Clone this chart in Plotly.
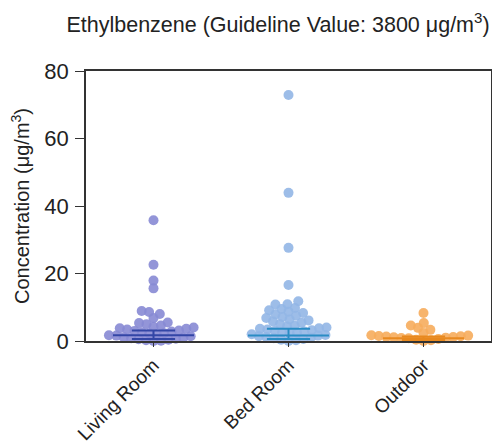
import numpy as np
import plotly.graph_objects as go

categories = ["Living Room", "Bed Room", "Outdoor"]
living_room = [35.8, 22.6, 17.9, 15.6, 8.9, 8.6, 8.0, 6.8, 5.5, 5.3, 5.0, 4.6,
               4.2, 4.0, 3.8, 3.6, 3.4, 3.1, 3.0, 2.8, 2.6, 2.3,
               2.2, 2.0, 1.7, 1.6, 1.4, 1.1, 1.0, 0.8, 0.7, 0.5,
               0.4, 0.2, 0.1, 0.0]
bed_room = [72.9, 43.9, 27.6, 16.6, 11.8, 10.9, 10.8, 9.8, 9.5, 9.1, 8.7, 8.3,
            7.9, 7.5, 7.1, 6.8, 6.4, 6.1, 5.8, 5.4, 5.0, 4.5, 4.3, 4.0, 3.8,
            3.6, 3.4, 3.2, 3.0, 2.8, 2.6, 2.4, 2.2, 2.0, 1.8, 1.6, 1.4, 1.2,
            1.0, 0.8, 0.6, 0.4, 0.2, 0.0]
outdoor = [8.3, 5.3, 4.6, 3.9, 3.3, 2.4, 1.7, 1.6, 1.5, 1.4, 1.3, 1.2, 1.1,
           1.0, 0.9, 0.8, 0.6, 0.4, 0.2, 0.0]
# median and interquartile range as drawn in the chart
medians = [1.7, 1.6, 0.8]
q1s = [0.6, 0.6, 0.3]
q3s = [3.1, 3.6, 1.3]

series = [living_room, bed_room, outdoor]
dot_colors = ["#8789d4", "#92b6e6", "#f6ac5c"]
bar_colors = ["#3346a6", "#2a8cc4", "#e8891f"]

W, H = 500, 445
M = dict(l=78, r=17, t=63, b=112)
YMAX = 80
px_x = (W - M["l"] - M["r"]) / 3.0
px_y = (H - M["t"] - M["b"]) / YMAX
D = 7.5  # collision distance in px


def beeswarm(vals):
    vals = np.asarray(vals, float)
    order = np.argsort(vals, kind="stable")
    placed = []
    offs = np.zeros(len(vals))
    for i in order:
        y = vals[i] * px_y
        cands = [0.0]
        for (px, py) in placed:
            dy = y - py
            if abs(dy) < D:
                dx = np.sqrt(D * D - dy * dy)
                cands += [px + dx, px - dx]
        cands.sort(key=abs)
        for c in cands:
            ok = all((c - px) ** 2 + (y - py) ** 2 >= D * D - 1e-6 for (px, py) in placed)
            if ok:
                offs[i] = c
                placed.append((c, y))
                break
    return offs / px_x


fig = go.Figure()
for k, vals in enumerate(series):
    offs = beeswarm(vals)
    fig.add_trace(go.Scatter(
        x=k + offs, y=vals, mode="markers", cliponaxis=False,
        marker=dict(size=10, color=dot_colors[k], opacity=0.9, line=dict(width=0)),
        showlegend=False, hoverinfo="y"))
for k in range(3):
    q1, med, q3 = q1s[k], medians[k], q3s[k]
    c = bar_colors[k]
    fig.add_trace(go.Scatter(x=[k - 0.3, k + 0.3], y=[med, med], mode="lines",
                             line=dict(color=c, width=2), cliponaxis=False,
                             showlegend=False, hoverinfo="skip"))
    fig.add_trace(go.Scatter(x=[k, k], y=[q1, q3], mode="lines",
                             line=dict(color=c, width=2), cliponaxis=False,
                             showlegend=False, hoverinfo="skip"))
    for q in (q1, q3):
        fig.add_trace(go.Scatter(x=[k - 0.16, k + 0.16], y=[q, q], mode="lines",
                                 line=dict(color=c, width=2), cliponaxis=False,
                                 showlegend=False, hoverinfo="skip"))

font = "Liberation Sans, Arial, sans-serif"
fig.update_layout(
    width=W, height=H, margin=M,
    paper_bgcolor="white", plot_bgcolor="white",
    font=dict(family=font, size=21, color="#222"),
    title=dict(text="Ethylbenzene (Guideline Value: 3800 \u03bcg/m<sup>3</sup>)",
               x=0.54, xanchor="center", y=0.962, yanchor="middle",
               font=dict(size=21.5, color="#222")),
    xaxis=dict(range=[-0.5, 2.5], tickvals=[0, 1, 2], ticktext=categories,
               tickangle=-45, ticks="outside", ticklen=4, tickcolor="#333",
               showline=True, linecolor="#333", linewidth=1.5, mirror=True,
               showgrid=False, zeroline=False, tickfont=dict(size=19),
               automargin=False),
    yaxis=dict(range=[0, YMAX], tickvals=[0, 20, 40, 60, 80], ticks="outside",
               ticklen=9, tickcolor="#333", showline=True, linecolor="#333",
               linewidth=1.5, mirror=True, showgrid=False, zeroline=False,
               tickfont=dict(size=22), automargin=False, ticklabelstandoff=2,
               title=dict(text="Concentration (\u03bcg/m<sup>3</sup>)",
                          font=dict(size=20), standoff=10)),
)
fig.write_html("out.html")
